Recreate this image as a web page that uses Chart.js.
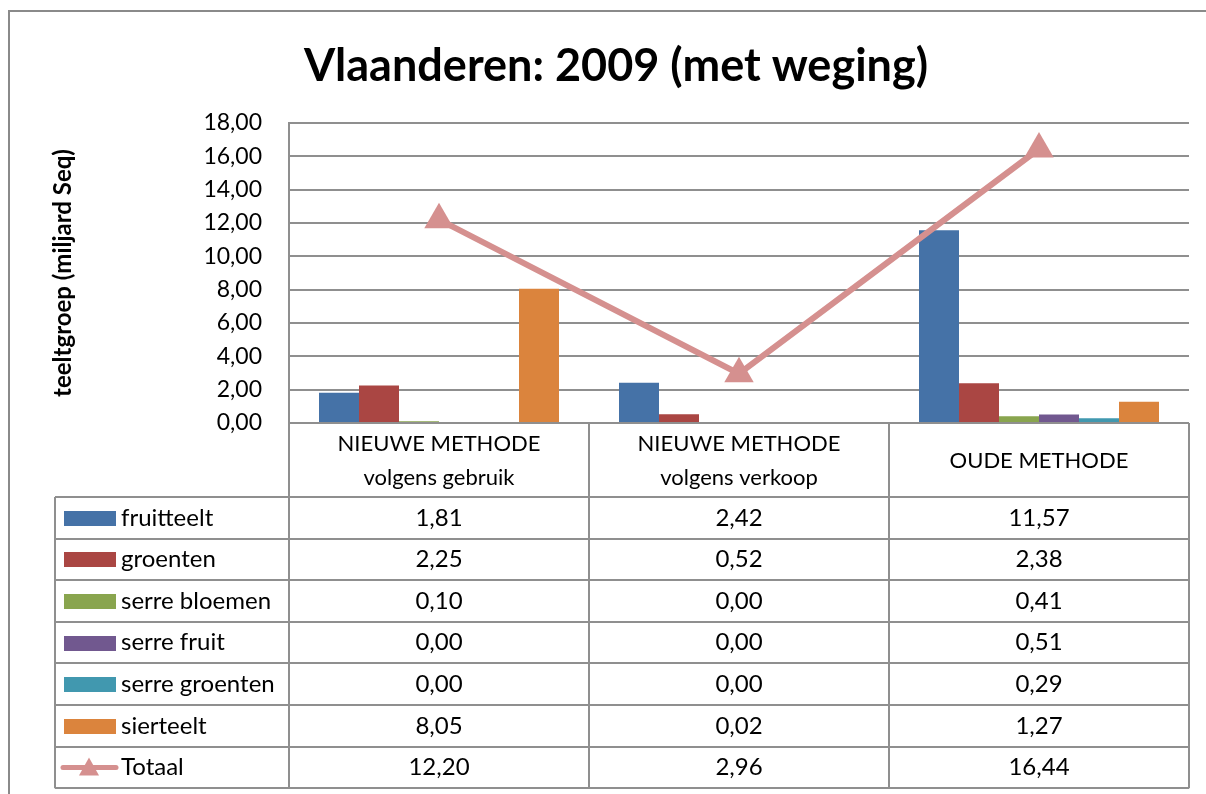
<!DOCTYPE html>
<html>
<head>
<meta charset="utf-8">
<script src="https://cdn.jsdelivr.net/npm/chart.js@4.4.0/dist/chart.umd.min.js"></script>
<style>
  html, body { margin: 0; padding: 0; background: #fff; }
  canvas { display: block; }
</style>
</head>
<body>
<canvas id="chart" width="1206" height="794"></canvas>
<script>
// Vlaanderen 2009 (met weging): one bar per teeltgroep, a line for the total,
// and an Excel-like data table under the plot
var categories = [["NIEUWE METHODE", "volgens gebruik"], ["NIEUWE METHODE", "volgens verkoop"], ["OUDE METHODE"]];
var fruitteelt    = [1.81, 2.42, 11.57];
var groenten      = [2.25, 0.52, 2.38];
var serreBloemen  = [0.10, 0.00, 0.41];
var serreFruit    = [0.00, 0.00, 0.51];
var serreGroenten = [0.00, 0.00, 0.29];
var sierteelt     = [8.05, 0.02, 1.27];
var totaal        = [12.20, 2.96, 16.44];
var seriesNames = ["fruitteelt", "groenten", "serre bloemen", "serre fruit", "serre groenten", "sierteelt"];
var totaalName = "Totaal";
var yMin = 0, yMax = 18, yStep = 2;
var title = "Vlaanderen: 2009 (met weging)";
var yTitle = "teeltgroep (miljard Seq)";

var barColors = ["#4572A7", "#AA4643", "#89A54E", "#71588F", "#4198AF", "#DB843D"];
var lineColor = "#D5908F";
var gridColor = "#8f8f8f";
var FONT = 'Lato, "Open Sans", sans-serif';

function fmt(v) { return v.toFixed(2).replace(".", ","); }

var barSeries = [fruitteelt, groenten, serreBloemen, serreFruit, serreGroenten, sierteelt];
var datasets = barSeries.map(function(values, i) {
  return {
    type: "bar",
    label: seriesNames[i],
    data: values,
    backgroundColor: barColors[i],
    borderWidth: 0,
    categoryPercentage: 0.8,
    barPercentage: 1.0,
    order: 1
  };
});
datasets.push({
  type: "line",
  label: totaalName,
  data: totaal,
  borderColor: lineColor,
  backgroundColor: lineColor,
  borderWidth: 6,
  pointStyle: "triangle",
  pointRadius: 17,
  pointBorderWidth: 0,
  pointBackgroundColor: lineColor,
  tension: 0,
  order: 0
});

// frame, title and the data table
var tablePlugin = {
  id: "tablePlugin",
  afterDraw: function(chart) {
    var ctx = chart.ctx, area = chart.chartArea, xs = chart.scales.x;
    var colW = xs.getPixelForValue(1) - xs.getPixelForValue(0);
    var edges = [];
    for (var i = 0; i <= categories.length; i++) edges.push(xs.getPixelForValue(0) - colW / 2 + i * colW);
    var headTop = area.bottom, headBottom = area.bottom + 74;
    var rowH = 41.6, nRows = seriesNames.length + 1;
    var tableLeft = 55, tableBottom = headBottom + rowH * nRows;

    ctx.save();
    // outer frame (only top and left are inside the picture)
    ctx.strokeStyle = "#8a8a8a";
    ctx.lineWidth = 2;
    ctx.beginPath();
    ctx.moveTo(9, 794); ctx.lineTo(9, 11); ctx.lineTo(1206, 11);
    ctx.stroke();

    // title
    ctx.fillStyle = "#000";
    ctx.font = "bold 45px " + FONT;
    ctx.textAlign = "center";
    ctx.textBaseline = "middle";
    ctx.fillText(title, 616, 66);

    // table grid
    ctx.strokeStyle = gridColor;
    ctx.lineWidth = 2;
    ctx.beginPath();
    ctx.moveTo(edges[0], headTop); ctx.lineTo(edges[edges.length - 1], headTop);
    for (var r = 0; r <= nRows; r++) {
      var y = Math.round(headBottom + r * rowH);
      ctx.moveTo(tableLeft, y); ctx.lineTo(edges[edges.length - 1], y);
    }
    edges.forEach(function(x) { ctx.moveTo(x, headTop); ctx.lineTo(x, tableBottom); });
    ctx.moveTo(tableLeft, headBottom); ctx.lineTo(tableLeft, tableBottom);
    ctx.stroke();

    // header labels
    ctx.fillStyle = "#000";
    ctx.font = "22px " + FONT;
    categories.forEach(function(lines, i) {
      var cx = xs.getPixelForValue(i);
      var mid = (headTop + headBottom) / 2 + 1;
      lines.forEach(function(t, k) {
        ctx.fillText(t, cx, mid + (k - (lines.length - 1) / 2) * 34);
      });
    });

    // rows
    ctx.font = "24px " + FONT;
    var rows = barSeries.concat([totaal]);
    rows.forEach(function(values, r) {
      var cy = headBottom + r * rowH + rowH / 2;
      if (r < barSeries.length) {
        ctx.fillStyle = barColors[r];
        ctx.fillRect(64, Math.round(cy - 7), 52, 15);
      } else {
        ctx.strokeStyle = lineColor;
        ctx.lineWidth = 5;
        ctx.lineCap = "round";
        ctx.beginPath(); ctx.moveTo(63, cy); ctx.lineTo(116, cy); ctx.stroke();
        ctx.fillStyle = lineColor;
        ctx.beginPath();
        ctx.moveTo(89, cy - 10); ctx.lineTo(99, cy + 8); ctx.lineTo(79, cy + 8);
        ctx.closePath(); ctx.fill();
      }
      ctx.fillStyle = "#000";
      ctx.textAlign = "left";
      ctx.fillText(r < barSeries.length ? seriesNames[r] : totaalName, 121, cy);
      ctx.textAlign = "center";
      values.forEach(function(v, i) { ctx.fillText(fmt(v), xs.getPixelForValue(i), cy); });
    });
    ctx.restore();
  }
};

var chart = new Chart(document.getElementById("chart"), {
  data: { labels: categories, datasets: datasets },
  options: {
    responsive: false,
    animation: false,
    layout: { padding: { left: 9, top: 123, right: 16, bottom: 371 } },
    plugins: {
      legend: { display: false },
      tooltip: { enabled: false },
      title: { display: false }
    },
    scales: {
      x: { display: false, offset: true },
      y: {
        min: yMin, max: yMax,
        ticks: {
          stepSize: yStep,
          padding: 27,
          color: "#000",
          font: { family: FONT, size: 23 },
          callback: function(v) { return fmt(v); }
        },
        grid: { color: gridColor, lineWidth: 2, drawTicks: false },
        border: { color: gridColor, width: 2 },
        title: {
          display: true,
          text: yTitle,
          color: "#000",
          font: { family: FONT, size: 24, weight: "bold" },
          padding: { top: 40, bottom: 0 }
        },
        afterFit: function(scale) { scale.width = 280; }
      }
    }
  },
  plugins: [tablePlugin]
});
</script>
</body>
</html>
